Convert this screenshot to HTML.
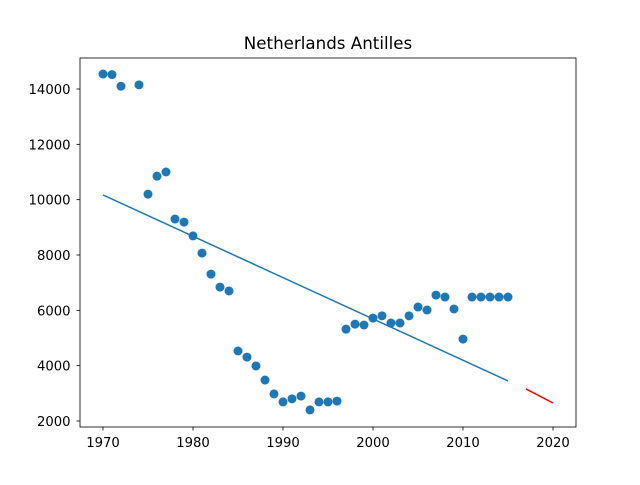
<!DOCTYPE html>
<html><head><meta charset="utf-8"><style>
body{margin:0;background:#fff}
svg text{font-family:"DejaVu Sans","Liberation Sans",sans-serif}
</style></head><body>
<svg id="chart" width="640" height="480">
<rect x="0" y="0" width="640" height="480" fill="#fff"/>
<text x="328" y="49" font-size="16.7" text-anchor="middle">Netherlands Antilles</text>
<g id="plot"></g>
<rect x="80" y="58" width="496" height="369" fill="none" stroke="#000" stroke-width="0.8"/>
</svg>
<script>
const years=[1970,1971,1972,1974,1975,1976,1977,1978,1979,1980,1981,1982,1983,1984,1985,1986,1987,1988,1989,1990,1991,1992,1993,1994,1995,1996,1997,1998,1999,2000,2001,2002,2003,2004,2005,2006,2007,2008,2009,2010,2011,2012,2013,2014,2015];
const values=[14540,14520,14100,14150,10200,10850,11000,9300,9190,8690,8070,7310,6840,6700,4530,4310,3990,3480,2980,2690,2800,2900,2400,2690,2690,2720,5320,5500,5470,5720,5800,5540,5540,5800,6120,6010,6550,6480,6050,4960,6480,6480,6480,6480,6480];
const trendYears=[1970,2015];
const trendValues=[10170,3450];
const forecastYears=[2017,2020];
const forecastValues=[3160,2650];
const xTicks=[1970,1980,1990,2000,2010,2020];
const yTicks=[2000,4000,6000,8000,10000,12000,14000];

const X=v=>103+(v-1970)*9;
const Y=v=>421-(v-2000)*(332/12000);
const NS="http://www.w3.org/2000/svg";
const g=document.getElementById('plot');
function mk(t,a){const e=document.createElementNS(NS,t);for(const k in a)e.setAttribute(k,a[k]);g.appendChild(e);return e;}
xTicks.forEach(t=>{
  const l=mk('line',{x1:X(t),x2:X(t),y1:427,y2:430.5,stroke:'#000','stroke-width':0.8});
  
  
  const tx=mk('text',{x:X(t),y:447,'font-size':13.2,'text-anchor':'middle'});tx.textContent=t;
  
  
});
yTicks.forEach(t=>{
  const l=mk('line',{x1:76.5,x2:80,y1:Y(t),y2:Y(t),stroke:'#000','stroke-width':0.8});
  
  
  const tx=mk('text',{x:70.5,y:Y(t)+5,'font-size':13.2,'text-anchor':'end'});tx.textContent=t;
  
  
});
years.forEach((yr,i)=>{
  const c=mk('circle',{cx:X(yr),cy:Y(values[i]),r:4.5,fill:'#1f77b4'});
  
  
});
const tl=mk('line',{x1:X(trendYears[0]),y1:Y(trendValues[0]),x2:X(trendYears[1]),y2:Y(trendValues[1]),stroke:'#1f77b4','stroke-width':1.5});


const fl=mk('line',{x1:X(forecastYears[0]),y1:Y(forecastValues[0]),x2:X(forecastYears[1]),y2:Y(forecastValues[1]),stroke:'#ff0000','stroke-width':1.5});


</script>
</body></html>
